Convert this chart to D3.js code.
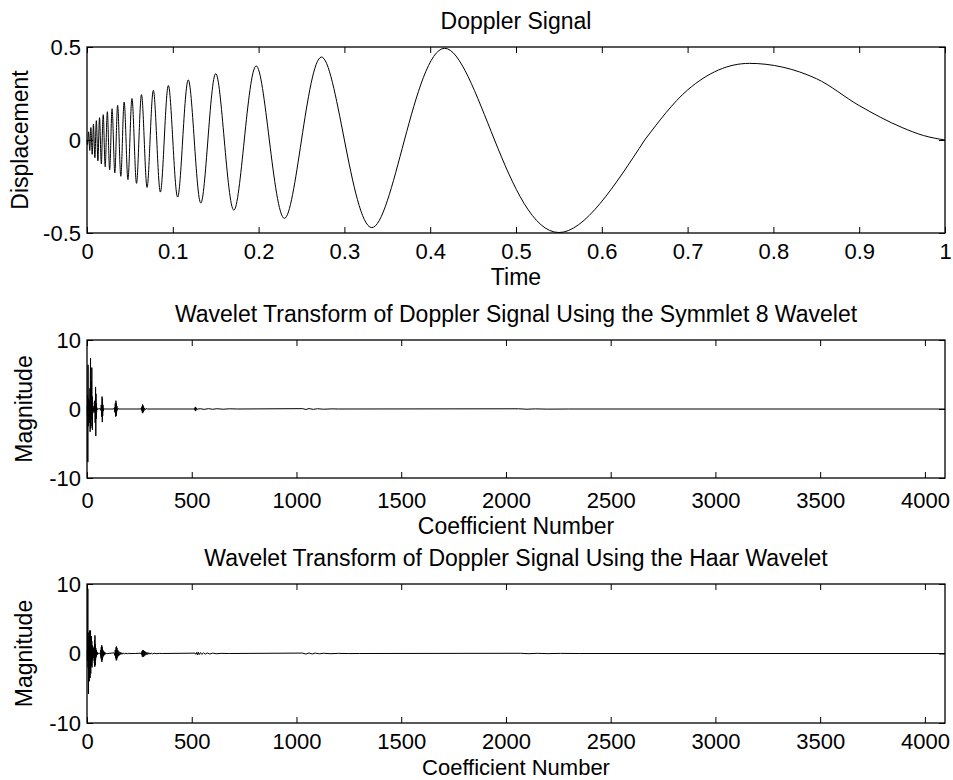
<!DOCTYPE html>
<html>
<head>
<meta charset="utf-8">
<script src="https://cdn.jsdelivr.net/npm/d3@7"></script>
<style>
  body { margin: 0; background: #fff; }
  svg text { font-family: "Liberation Sans", Arial, Helvetica, sans-serif; fill: #000; }
</style>
</head>
<body>
<div id="chart"></div>
<script>
"use strict";

// Doppler signal (extrema and zero crossings, a few extra on the tail)
var dopplerTime = [0, 0.0006, 0.0012, 0.0019, 0.0025, 0.0032, 0.0038, 0.0045, 0.0053, 0.006,
  0.0068, 0.0075, 0.0083, 0.0092, 0.01, 0.0109, 0.0118, 0.0127, 0.0136, 0.0146,
  0.0156, 0.0167, 0.0177, 0.0189, 0.02, 0.0212, 0.0224, 0.0237, 0.025, 0.0264,
  0.0278, 0.0292, 0.0308, 0.0324, 0.034, 0.0357, 0.0375, 0.0394, 0.0413, 0.0433,
  0.0455, 0.0477, 0.05, 0.0524, 0.055, 0.0577, 0.0605, 0.0635, 0.0667, 0.07,
  0.0735, 0.0773, 0.0813, 0.0855, 0.09, 0.0948, 0.1, 0.1056, 0.1115, 0.118,
  0.125, 0.1326, 0.1409, 0.15, 0.16, 0.1711, 0.1833, 0.1971, 0.2125, 0.23,
  0.25, 0.2731, 0.3, 0.3318, 0.37, 0.4167, 0.475, 0.55, 0.65, 0.7,
  0.772, 0.85, 0.9, 0.95, 0.975, 1.0];
var dopplerValue = [0, -0.025, 0, 0.044, 0, -0.056, 0, 0.067, 0, -0.077,
  0, 0.086, 0, -0.095, 0, 0.104, 0, -0.112, 0, 0.12,
  0, -0.128, 0, 0.136, 0, -0.144, 0, 0.152, 0, -0.16,
  0, 0.168, 0, -0.177, 0, 0.186, 0, -0.195, 0, 0.204,
  0, -0.213, 0, 0.223, 0, -0.233, 0, 0.244, 0, -0.255,
  0, 0.267, 0, -0.28, 0, 0.293, 0, -0.307, 0, 0.323,
  0, -0.339, 0, 0.357, 0, -0.377, 0, 0.398, 0, -0.421,
  0, 0.446, 0, -0.471, 0, 0.493, 0, -0.4975, 0, 0.269,
  0.412, 0.33, 0.185, 0.067, 0.024, 0];

var timeTicks = [0, 0.1, 0.2, 0.3, 0.4, 0.5, 0.6, 0.7, 0.8, 0.9, 1];
var displacementTicks = [-0.5, 0, 0.5];

// Symmlet 8 coefficients (index, value), zero where not listed
var symmletIndex = [1, 2, 3, 4, 5, 6, 7, 8, 9, 10, 11, 12, 13, 14, 15, 16, 17, 18, 19, 20,
  21, 22, 23, 24, 25, 26, 27, 28, 29, 30, 31,
  33, 35, 37, 39, 41, 42, 43, 44, 45, 46, 47, 49, 51,
  64, 66, 68, 70, 72, 73, 74, 75, 76, 78, 80, 84,
  128, 131, 133, 135, 137, 138, 139, 140, 141, 143, 145, 148, 152,
  256, 258, 260, 262, 264, 265, 266, 267, 268, 270, 272, 275, 278, 282, 290,
  512, 514, 516, 517, 518, 519, 520, 522, 525, 530,
  540, 560, 580, 600, 620, 650, 680, 720,
  1030, 1045, 1060, 1080, 1100, 1130, 1170, 1200,
  2060, 2100, 2140, 2200, 2300, 4096];
var symmletValue = [0.5, -1.0, 2.0, -7.7, 6.4, -2.5, 1.5, -1.0, 0.8, 0.3, -0.5, 1.2, -2.0, 3.0, -3.3, 5.0, 7.4, -2.8, 2.0, -1.0,
  4.0, -1.5, 6.0, -2.5, 1.8, -3.0, 1.0, -0.6, 0.4, -0.3, 0.1,
  0.1, -0.5, 1.2, -2.0, 3.2, -3.9, 2.2, -1.4, 0.8, -0.4, 0.2, -0.1, 0,
  0.05, -0.2, 0.6, -1.1, 1.8, -1.9, 1.5, -1.0, 0.6, -0.3, 0.1, 0,
  0, 0.2, -0.5, 0.8, -1.1, 1.2, -1.0, 0.8, -0.6, 0.4, -0.2, 0.1, 0,
  0, 0.1, -0.2, 0.35, -0.5, 0.65, -0.6, 0.55, -0.45, 0.35, -0.25, 0.15, -0.08, 0.04, 0,
  0, 0.1, -0.2, 0.3, -0.3, 0.25, -0.2, 0.12, -0.05, 0,
  0.04, -0.05, 0.05, -0.04, 0.04, -0.03, 0.03, 0,
  0.05, -0.07, 0.06, -0.05, 0.04, -0.03, 0.02, 0,
  0.03, -0.03, 0.02, -0.02, 0, 0];

// Haar coefficients (index, value)
var haarIndex = [1, 2, 3, 4, 5, 6, 7, 8, 9, 10, 11, 12, 13, 14, 15, 16, 17, 18, 19, 20,
  21, 22, 23, 24, 25, 26, 27, 28, 29, 30, 31,
  32, 33, 34, 35, 36, 37, 38, 39, 40, 41, 42, 43, 44, 45, 46, 48, 50, 52, 55, 58,
  64, 65, 66, 67, 68, 69, 70, 71, 72, 73, 74, 75, 76, 78, 80, 82, 85, 88, 92, 96, 100,
  130, 133, 135, 137, 139, 140, 141, 142, 143, 145, 147, 149, 152, 155, 158, 162, 166, 170, 175, 180, 186, 192, 200, 210, 220, 230,
  258, 260, 262, 264, 266, 268, 270, 272, 274, 276, 279, 282, 286, 290, 295, 300, 306, 312, 320, 330, 345, 360,
  516, 520, 524, 528, 532, 536, 542, 548, 556, 564, 574, 586, 600, 616, 640, 680,
  1030, 1045, 1060, 1075, 1090, 1110, 1130, 1160, 1200, 1250, 1300,
  2070, 2110, 2150, 2200, 2260, 2350, 4096];
var haarValue = [0.5, -1.0, 1.0, 9.3, -2.0, 3.0, -5.8, 2.0, -1.0, 0.5, -4.0, 3.3, -2.5, 1.5, -3.5, 2.2, 3.3, -2.9, 1.0, -1.8,
  2.5, -1.2, 1.8, -2.0, 1.2, -0.8, 0.6, -1.0, 0.8, -0.6, 0.4,
  0.3, -0.6, 1.0, -1.4, 1.9, -1.9, 2.6, -1.7, 1.3, -1.0, 0.8, -0.6, 0.5, -0.4, 0.3, -0.2, 0.15, -0.1, 0.05, 0,
  0.1, -0.3, 0.5, -0.7, 0.9, -1.1, 1.2, -1.2, 1.0, -0.9, 0.7, -0.6, 0.5, -0.4, 0.3, -0.25, 0.2, -0.12, 0.08, -0.04, 0,
  0.1, -0.3, 0.5, -0.7, 0.9, -1.0, 1.0, -0.9, 0.8, -0.6, 0.5, -0.4, 0.3, -0.25, 0.2, -0.15, 0.12, -0.1, 0.08, -0.06, 0.05, -0.04, 0.03, -0.02, 0.01, 0,
  0.05, -0.15, 0.3, -0.45, 0.5, -0.5, 0.45, -0.4, 0.35, -0.3, 0.25, -0.2, 0.18, -0.15, 0.12, -0.1, 0.08, -0.07, 0.05, -0.03, 0.02, 0,
  0.05, -0.12, 0.18, -0.2, 0.18, -0.15, 0.13, -0.12, 0.1, -0.09, 0.08, -0.07, 0.06, -0.04, 0.02, 0,
  0.06, -0.08, 0.08, -0.07, 0.06, -0.05, 0.04, -0.03, 0.02, -0.01, 0,
  0.03, -0.03, 0.025, -0.02, 0.015, 0, 0];

var coefficientTicks = [0, 500, 1000, 1500, 2000, 2500, 3000, 3500, 4000];
var magnitudeTicks = [-10, 0, 10];

var width = 953, height = 780;
var left = 87, right = 945;

var svg = d3.select("#chart")
            .append("svg")
            .attr("width", width)
            .attr("height", height);

svg.append("rect")
   .attr("width", width)
   .attr("height", height)
   .attr("fill", "#fff");

var drawPanel = function(p) {
  var x = d3.scaleLinear().domain(p.xDomain).range([left, right]);
  var y = d3.scaleLinear().domain(p.yDomain).range([p.bottom, p.top]);
  var fmt = function(d) { return String(d); };

  var g = svg.append("g");

  // inward ticks on all four sides, labels only bottom / left
  g.append("g")
   .attr("transform", "translate(0," + p.bottom + ")")
   .call(d3.axisBottom(x).tickValues(p.xTicks).tickFormat(fmt).tickSize(-6).tickPadding(p.xPad))
   .call(function(a) { a.select(".domain").remove(); });
  g.append("g")
   .attr("transform", "translate(0," + p.top + ")")
   .call(d3.axisTop(x).tickValues(p.xTicks).tickFormat("").tickSize(-6))
   .call(function(a) { a.select(".domain").remove(); });
  g.append("g")
   .attr("transform", "translate(" + left + ",0)")
   .call(d3.axisLeft(y).tickValues(p.yTicks).tickFormat(fmt).tickSize(-6).tickPadding(6))
   .call(function(a) { a.select(".domain").remove(); });
  g.append("g")
   .attr("transform", "translate(" + right + ",0)")
   .call(d3.axisRight(y).tickValues(p.yTicks).tickFormat("").tickSize(-6))
   .call(function(a) { a.select(".domain").remove(); });

  g.selectAll(".tick line").attr("stroke", "#000").attr("stroke-width", 1);
  g.selectAll(".tick text")
   .attr("font-size", 22)
   .attr("font-family", "Liberation Sans, Arial, sans-serif");

  var pts = p.xs.map(function(d, i) { return [d, p.ys[i]]; });
  var line = d3.line()
               .x(function(d) { return x(d[0]); })
               .y(function(d) { return y(d[1]); });

  // each piece gets its own curve (the long Doppler tail is spaced unevenly)
  p.pieces.forEach(function(piece) {
    var sub = pts.filter(function(d) { return d[0] >= piece.from && d[0] <= piece.to; });
    g.append("path")
     .datum(sub)
     .attr("d", line.curve(piece.curve))
     .attr("fill", "none")
     .attr("stroke", "#000")
     .attr("stroke-width", 1);
  });

  g.append("rect")
   .attr("x", left)
   .attr("y", p.top)
   .attr("width", right - left)
   .attr("height", p.bottom - p.top)
   .attr("fill", "none")
   .attr("stroke", "#000")
   .attr("stroke-width", 1.3);

  g.append("text")
   .attr("x", (left + right) / 2)
   .attr("y", p.titleY)
   .attr("text-anchor", "middle")
   .attr("font-size", 23)
   .text(p.title);

  g.append("text")
   .attr("x", (left + right) / 2)
   .attr("y", p.xLabelY)
   .attr("text-anchor", "middle")
   .attr("font-size", p.xLabelSize || 23)
   .text(p.xLabel);

  g.append("text")
   .attr("transform", "translate(" + p.yLabelX + "," + ((p.top + p.bottom) / 2) + ") rotate(-90)")
   .attr("text-anchor", "middle")
   .attr("font-size", 23)
   .text(p.yLabel);
};

drawPanel({
  top: 47, bottom: 233,
  xDomain: [0, 1], yDomain: [-0.5, 0.5],
  xTicks: timeTicks, yTicks: displacementTicks, xPad: 10,
  xs: dopplerTime, ys: dopplerValue,
  pieces: [{ from: 0, to: 0.65, curve: d3.curveNatural },
           { from: 0.65, to: 1, curve: d3.curveMonotoneX }],
  title: "Doppler Signal", titleY: 29,
  xLabel: "Time", xLabelY: 285,
  yLabel: "Displacement", yLabelX: 28
});

drawPanel({
  top: 340, bottom: 478,
  xDomain: [0, 4096], yDomain: [-10, 10],
  xTicks: coefficientTicks, yTicks: magnitudeTicks, xPad: 14,
  xs: symmletIndex, ys: symmletValue,
  pieces: [{ from: 0, to: 4096, curve: d3.curveLinear }],
  title: "Wavelet Transform of Doppler Signal Using the Symmlet 8 Wavelet", titleY: 322,
  xLabel: "Coefficient Number", xLabelY: 534,
  yLabel: "Magnitude", yLabelX: 32
});

drawPanel({
  top: 584, bottom: 723,
  xDomain: [0, 4096], yDomain: [-10, 10],
  xTicks: coefficientTicks, yTicks: magnitudeTicks, xPad: 10,
  xs: haarIndex, ys: haarValue,
  pieces: [{ from: 0, to: 4096, curve: d3.curveLinear }],
  title: "Wavelet Transform of Doppler Signal Using the Haar Wavelet", titleY: 566,
  xLabel: "Coefficient Number", xLabelY: 775, xLabelSize: 22,
  yLabel: "Magnitude", yLabelX: 32
});
</script>
</body>
</html>
